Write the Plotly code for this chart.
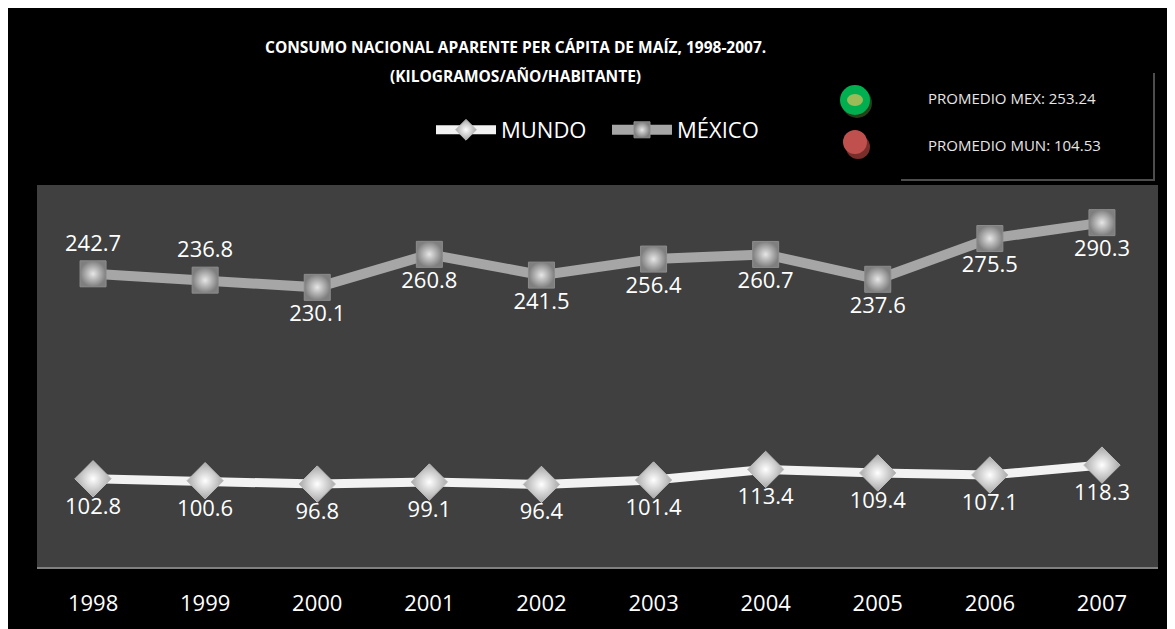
import plotly.graph_objects as go

years = ["1998", "1999", "2000", "2001", "2002", "2003", "2004", "2005", "2006", "2007"]
mundo = [102.8, 100.6, 96.8, 99.1, 96.4, 101.4, 113.4, 109.4, 107.1, 118.3]
mexico = [242.7, 236.8, 230.1, 260.8, 241.5, 256.4, 260.7, 237.6, 275.5, 290.3]
mexico_label_pos = ["top center", "top center"] + ["bottom center"] * 8
title_line1 = "CONSUMO NACIONAL APARENTE PER CÁPITA DE MAÍZ, 1998-2007."
title_line2 = "(KILOGRAMOS/AÑO/HABITANTE)"
promedio_mex = "PROMEDIO MEX: 253.24"
promedio_mun = "PROMEDIO MUN: 104.53"

OX, OY = 8, 8  # page margin offset
W, H = 1175 - OX, 629 - OY
L, R, T, B = 37 - OX, 1158 - OX, 185 - OY, 567 - OY  # plot area in figure pixels


def px(x):
    return (x - OX - L) / (R - L)


def py(y):
    return (B - (y - OY)) / (B - T)


FONT = "Open Sans, Noto Sans, sans-serif"

fig = go.Figure()

fig.add_trace(go.Scatter(
    x=years, y=mundo, name="MUNDO", mode="lines+markers+text",
    yaxis="y2", legend="legend",
    line=dict(color="#f2f2f2", width=9),
    marker=dict(symbol="diamond", size=28, color="#a8a8a8",
                gradient=dict(type="radial", color="#ffffff"),
                line=dict(color="#bdbdbd", width=1)),
    text=[f"{v:.1f}" for v in mundo], textposition="bottom center",
    textfont=dict(family=FONT, size=22, color="#ffffff"),
    cliponaxis=False,
))
fig.add_trace(go.Scatter(
    x=years, y=mexico, name="MÉXICO", mode="lines+markers+text",
    legend="legend2",
    line=dict(color="#a6a6a6", width=10),
    marker=dict(symbol="square", size=26, color="#7f7f7f",
                gradient=dict(type="radial", color="#e6e6e6"),
                line=dict(color="#8c8c8c", width=1)),
    text=[f"{v:.1f}" for v in mexico], textposition=mexico_label_pos,
    textfont=dict(family=FONT, size=22, color="#ffffff"),
    cliponaxis=False,
))

shapes = [
    # grey plot area
    dict(type="rect", xref="paper", yref="paper", layer="below",
         x0=0, x1=1, y0=0, y1=1, fillcolor="#404040", line=dict(width=0)),
    # promedio box borders (right and bottom)
    dict(type="line", xref="paper", yref="paper",
         x0=px(1154), x1=px(1154), y0=py(180), y1=py(73),
         line=dict(color="#4d4d4d", width=2)),
    dict(type="line", xref="paper", yref="paper",
         x0=px(901), x1=px(1155), y0=py(180), y1=py(180),
         line=dict(color="#4d4d4d", width=2)),
    # green circle with shadow
    dict(type="circle", xref="paper", yref="paper",
         x0=px(842), x1=px(872), y0=py(118), y1=py(88),
         fillcolor="#26401a", line=dict(width=0)),
    dict(type="circle", xref="paper", yref="paper",
         x0=px(840), x1=px(870), y0=py(115), y1=py(85),
         fillcolor="#00b050", line=dict(width=0)),
    dict(type="circle", xref="paper", yref="paper",
         x0=px(847), x1=px(863), y0=py(106), y1=py(94),
         fillcolor="#9bbb59", line=dict(width=0)),
    # red circle with shadow
    dict(type="circle", xref="paper", yref="paper",
         x0=px(846), x1=px(870), y0=py(159), y1=py(135),
         fillcolor="#7a2e2c", line=dict(width=0)),
    dict(type="circle", xref="paper", yref="paper",
         x0=px(843), x1=px(867), y0=py(154), y1=py(130),
         fillcolor="#c0504d", line=dict(width=0)),
]

TITLE_FONT = dict(family=FONT, size=15.5, color="#ffffff")
annotations = [
    dict(text=f"<b>{title_line1}</b>", xref="paper", yref="paper",
         x=px(515), y=py(47), xanchor="center", yanchor="middle",
         showarrow=False, font=TITLE_FONT),
    dict(text=f"<b>{title_line2}</b>", xref="paper", yref="paper",
         x=px(515), y=py(76), xanchor="center", yanchor="middle",
         showarrow=False, font=TITLE_FONT),
    dict(text=promedio_mex, xref="paper", yref="paper",
         x=px(926), y=py(98), xanchor="left", yanchor="middle", showarrow=False,
         font=dict(family=FONT, size=15, color="#e6e6e6")),
    dict(text=promedio_mun, xref="paper", yref="paper",
         x=px(926), y=py(145), xanchor="left", yanchor="middle", showarrow=False,
         font=dict(family=FONT, size=15, color="#e6e6e6")),
]

LEG = dict(orientation="h", xref="container", yref="container",
           xanchor="left", yanchor="middle",
           font=dict(family=FONT, size=22, color="#ffffff"),
           bgcolor="rgba(0,0,0,0)", itemwidth=60)

fig.update_layout(
    width=W, height=H,
    margin=dict(l=L, r=W - R, t=T, b=H - B, pad=0),
    paper_bgcolor="#000000",
    plot_bgcolor="rgba(0,0,0,0)",
    font=dict(family=FONT, color="#ffffff"),
    showlegend=True,
    legend=dict(LEG, x=(437 - OX - 6) / W, y=1 - (130 - OY) / H),
    legend2=dict(LEG, x=(613 - OX - 6) / W, y=1 - (130 - OY) / H),
    xaxis=dict(type="category", range=[-0.5, 9.5], showgrid=False, zeroline=False,
               showline=True, linecolor="#808080", linewidth=2,
               ticks="", ticklabelstandoff=16,
               tickfont=dict(family=FONT, size=22, color="#ffffff")),
    yaxis=dict(range=[-30, 325.3], visible=False, showgrid=False),
    yaxis2=dict(range=[2.9, 435.5], visible=False, showgrid=False,
                overlaying="y"),
    shapes=shapes,
    annotations=annotations,
)

fig.write_html("out.html")
